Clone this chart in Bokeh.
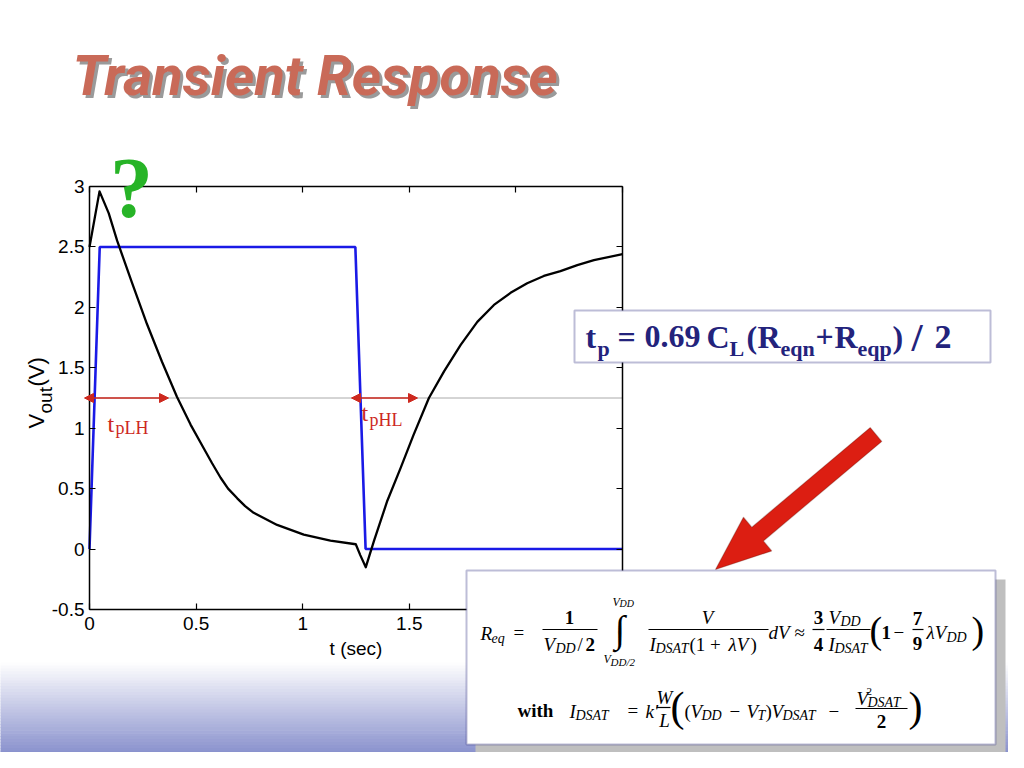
import numpy as np
from bokeh.plotting import figure
from bokeh.models import (Label, BoxAnnotation, PolyAnnotation, Arrow, NormalHead,
                          LinearAxis, Range1d, FixedTicker)
from bokeh.embed import file_html
from bokeh.resources import INLINE

# ---------------- data ----------------
t_in = [0.0, 0.048, 1.247, 1.295, 2.5]
v_in = [0.0, 2.5, 2.5, 0.0, 0.0]

t_out = [0.0, 0.047, 0.09, 0.13, 0.20, 0.27, 0.34, 0.41, 0.474, 0.537, 0.575,
         0.615, 0.65, 0.693, 0.73, 0.77, 0.88, 1.005, 1.13, 1.249, 1.27, 1.296,
         1.334, 1.397, 1.459, 1.52, 1.592, 1.663, 1.741, 1.819, 1.897, 1.975,
         2.053, 2.131, 2.209, 2.288, 2.366, 2.50]
v_out = [2.5, 2.96, 2.78, 2.55, 2.2, 1.86, 1.55, 1.26, 1.03, 0.83, 0.71,
         0.59, 0.50, 0.42, 0.355, 0.30, 0.20, 0.12, 0.07, 0.04, -0.05, -0.15,
         0.066, 0.40, 0.67, 0.945, 1.25, 1.47, 1.69, 1.88, 2.02, 2.12,
         2.20, 2.26, 2.30, 2.35, 2.39, 2.44]

x_ticks = [0, 0.5, 1, 1.5, 2, 2.5]
y_ticks = [-0.5, 0, 0.5, 1, 1.5, 2, 2.5, 3]
y_tick_text = {-0.5: "-0.5"}
v_half = 1.25          # VDD/2 reference level
x_lim = (0, 2.5)
y_lim = (-0.5, 3)

# ---------------- layout ----------------
W, H = 1008, 752
FL, FT, FR, FB = 89, 186, 622, 609   # chart box edges on the canvas (px)
sx = (FR - FL) / (x_lim[1] - x_lim[0])
sy = (FB - FT) / (y_lim[1] - y_lim[0])
xr = Range1d(x_lim[0] - FL / sx, x_lim[0] + (W - FL) / sx)
yr = Range1d(y_lim[1] - (H - FT) / sy, y_lim[1] + FT / sy)

RED = "#cd281e"
NAVY = "#23237c"
BLUE = "#1a1ae6"

p = figure(width=W, height=H, output_backend="svg", toolbar_location=None,
           x_range=xr, y_range=yr, x_axis_location=None, y_axis_location=None,
           min_border=0)
p.grid.visible = False
p.outline_line_color = None
p.background_fill_color = "white"
p.border_fill_color = "white"


def dx(px):
    return xr.start + px / sx


def dy(py):
    return yr.end - py / sy


def make_axis(ticks, loc, bounds, show_labels=True):
    ax = LinearAxis(fixed_location=loc, bounds=bounds)
    ax.ticker = FixedTicker(ticks=ticks)
    ax.minor_tick_line_color = None
    ax.major_tick_in = 6
    ax.major_tick_out = 0
    ax.axis_line_width = 1.5
    ax.axis_line_color = "black"
    ax.major_tick_line_color = "black"
    ax.major_tick_line_width = 1.2
    ax.major_label_text_font = "Liberation Sans"
    ax.major_label_text_font_size = "19px"
    ax.major_label_text_color = "black" if show_labels else None
    return ax


xb = make_axis(x_ticks, y_lim[0], x_lim)
xb.major_label_standoff = 7
xb.axis_label = "t (sec)"
xb.axis_label_text_font = "Liberation Sans"
xb.axis_label_text_font_size = "19px"
xb.axis_label_text_font_style = "normal"
xb.axis_label_text_color = "black"
xb.axis_label_standoff = 5
yl = make_axis(y_ticks, x_lim[0], y_lim)
yl.major_label_standoff = 5
yl.major_label_overrides = y_tick_text
xt = make_axis(x_ticks, y_lim[1], x_lim, False)
yrt = make_axis(y_ticks, x_lim[1], y_lim, False)
p.add_layout(xb, "below")
p.add_layout(yl, "left")
p.add_layout(xt, "above")
p.add_layout(yrt, "right")

# ---------------- chart data ----------------
p.line([x_lim[0], x_lim[1]], [v_half, v_half], line_color="#aaaaaa", line_width=1)
p.line(t_in, v_in, line_color=BLUE, line_width=2.6)
p.line(t_out, v_out, line_color="black", line_width=2.3, line_join="round")


# ---------------- helpers for decorations (canvas pixels, text centred) ----------------
def T(px, pyc, text, size, style="normal", font="Liberation Serif", color="black",
      align="left", angle=0.0):
    p.add_layout(Label(x=dx(px), y=dy(pyc), text=text, text_font=font,
                       text_font_size=f"{size}px", text_font_style=style,
                       text_color=color, text_align=align, text_baseline="middle",
                       angle=angle))


def B(l, t, r, b, fill, line=None, lw=0):
    p.add_layout(BoxAnnotation(left=dx(l), right=dx(r), top=dy(t), bottom=dy(b),
                               fill_color=fill, fill_alpha=1.0,
                               line_color=line, line_width=lw, level="annotation"))


# bottom gradient of the slide
g0, g1 = 662, 768
n = 36
c_top = np.array([255, 255, 255])
c_bot = np.array([118, 127, 197])
for i in range(n):
    y0 = g0 + (g1 - g0) * i / n
    y1 = g0 + (g1 - g0) * (i + 1) / n
    f = (i + 0.5) / n
    c = (c_top + (c_bot - c_top) * f).astype(int)
    col = "#%02x%02x%02x" % tuple(c)
    B(-5, y0, W + 5, y1 + 0.6, col)

# title with shadow
T(75, 78, "Transient Response", 56, "bold italic", "Roboto", "#9a9a9a")
T(72, 75, "Transient Response", 56, "bold italic", "Roboto", "#c96a58")

# y axis label  V_out(V)  (rotated, reads upward)
T(35.5, 428, "V", 22, font="Liberation Sans", angle=np.pi / 2)
T(45, 413, "out", 19, font="Liberation Sans", angle=np.pi / 2)
T(35.5, 386, "(V)", 22, font="Liberation Sans", angle=np.pi / 2)

# green question mark
T(131, 187, "?", 86, "bold", color="#27b427", align="center")

# propagation delay arrows
for a, b in [(84, 168), (351, 417)]:
    p.add_layout(Arrow(x_start=dx(a), y_start=v_half, x_end=dx(b), y_end=v_half,
                       start=NormalHead(size=9, fill_color=RED, line_color=RED),
                       end=NormalHead(size=9, fill_color=RED, line_color=RED),
                       line_color=RED, line_width=1.6))
T(107, 423, "t", 24, color=RED)
T(115, 427, "pLH", 18, color=RED)
T(361, 412, "t", 24, color=RED)
T(369, 419, "pHL", 18, color=RED)

# t_p box
B(574, 310, 990, 362, "white", NAVY, 2)
F1, F2 = 32, 22
cm, cs = 336, 348
tp_parts = [(585, "t", F1, cm), (597, "p", F2, cs), (617, "=", F1, cm),
            (644, "0.69", F1, cm), (706, "C", F1, cm), (729, "L", F2, cs),
            (746, "(", F1, cm), (757, "R", F1, cm), (780, "eqn", F2, cs),
            (815, "+", F1, cm), (834, "R", F1, cm), (857, "eqp", F2, cs),
            (892, ")", F1, cm), (911, "/", 40, cm + 1), (934, "2", F1 + 2, cm)]
for x, txt, size, yc in tp_parts:
    T(x, yc, txt, size, "bold", color=NAVY)

# big red arrow
tip = np.array([715.0, 569.0])
tail = np.array([875.5, 434.0])
d = (tip - tail) / np.linalg.norm(tip - tail)
nrm = np.array([-d[1], d[0]])
w, hw, hl = 9.0, 22.0, 55.0
base = tip - hl * d
pts = [tail - w * nrm, base - w * nrm, base - hw * nrm, tip,
       base + hw * nrm, base + w * nrm, tail + w * nrm]
p.add_layout(PolyAnnotation(xs=[dx(q[0]) for q in pts], ys=[dy(q[1]) for q in pts],
                            fill_color="#dc1e12", fill_alpha=1.0,
                            line_color="#5a1008", line_width=1.2))

# formula box with shadow
B(475, 579, 1005, 753, "#bfbfbf")
B(466, 570, 995, 744, "white", NAVY, 2)

M, S = 19, 14
it, bd, nm = "italic", "bold", "normal"
bars = [(542, 597, 629), (648, 768, 629), (812, 824, 629), (826, 870, 629),
        (912, 923, 629), (656, 670, 707), (855, 907, 708)]
for l, r, y in bars:
    B(l, y - 0.6, r, y + 0.6, "black")

L1, L1s = 633, 637
N1, N1s = 617, 621
D1, D1s = 644, 648
L2, L2s = 711, 715
pieces = [
    # line 1
    (480, L1, "R", M, it, "left"), (491, L1s + 1, "eq", S, it, "left"),
    (513, L1 - 1, "=", M, nm, "left"),
    (569, N1, "1", M, bd, "center"),
    (543, D1, "V", M, it, "left"), (555, D1s, "DD", S, it, "left"),
    (577, D1, "/", M, nm, "left"), (585, D1, "2", M, bd, "left"),
    (614, 628, "\u222b", 38, nm, "left"),
    (612, 601, "V", 12, it, "left"), (619, 603, "DD", 10, it, "left"),
    (603, 658, "V", 12, it, "left"), (610, 661, "DD/2", 11, it, "left"),
    (707, N1, "V", M, it, "center"),
    (649, D1, "I", M, it, "left"), (655, D1s, "DSAT", S, it, "left"),
    (689, D1, "(1 + ", M, nm, "left"), (728, D1, "\u03bbV", M, it, "left"),
    (750, D1, ")", M, nm, "left"),
    (768, L1 - 1, "dV", M, it, "left"), (794, L1 - 1, "\u2248", M, nm, "left"),
    (818, N1, "3", M, bd, "center"), (818, D1, "4", M, bd, "center"),
    (828, N1, "V", M, it, "left"), (840, N1s, "DD", S, it, "left"),
    (828, D1, "I", M, it, "left"), (834, D1s, "DSAT", S, it, "left"),
    (869, 629, "(", 38, nm, "left"),
    (881, L1 - 1, "1", M, bd, "left"), (893, L1 - 1, "\u2212", M, nm, "left"),
    (917, N1 + 1, "7", M, bd, "center"), (917, D1 - 1, "9", M, bd, "center"),
    (926, L1 - 1, "\u03bbV", M, it, "left"), (946, L1s, "DD", S, it, "left"),
    (971, 629, ")", 38, nm, "left"),
    # line 2
    (517, L2 - 1, "with", M, bd, "left"),
    (569, L2, "I", M, it, "left"), (575, L2s, "DSAT", S, it, "left"),
    (627, L2 - 1, "=", M, nm, "left"),
    (645, L2, "k'", M, it, "left"),
    (664, 697, "W", M, it, "center"), (664, 720, "L", M, it, "center"),
    (670, 706, "(", 42, nm, "left"),
    (684, L2, "(", M, nm, "left"), (690, L2, "V", M, it, "left"),
    (701, L2s, "DD", S, it, "left"), (729, L2, "\u2212", M, nm, "left"),
    (746, L2, "V", M, it, "left"), (757, L2s, "T", S, it, "left"),
    (765, L2, ")", M, nm, "left"), (771, L2, "V", M, it, "left"),
    (782, L2s, "DSAT", S, it, "left"), (828, L2, "\u2212", M, nm, "left"),
    (856, 698, "V", M, it, "left"), (866, 691, "2", 11, nm, "left"),
    (867, 702, "DSAT", S, it, "left"),
    (881, 721, "2", M, bd, "center"),
    (908, 706, ")", 42, nm, "left"),
]
for x, y, txt, size, sty, al in pieces:
    T(x, y, txt, size, sty, align=al)

open("out.html", "w").write(file_html(p, INLINE))
